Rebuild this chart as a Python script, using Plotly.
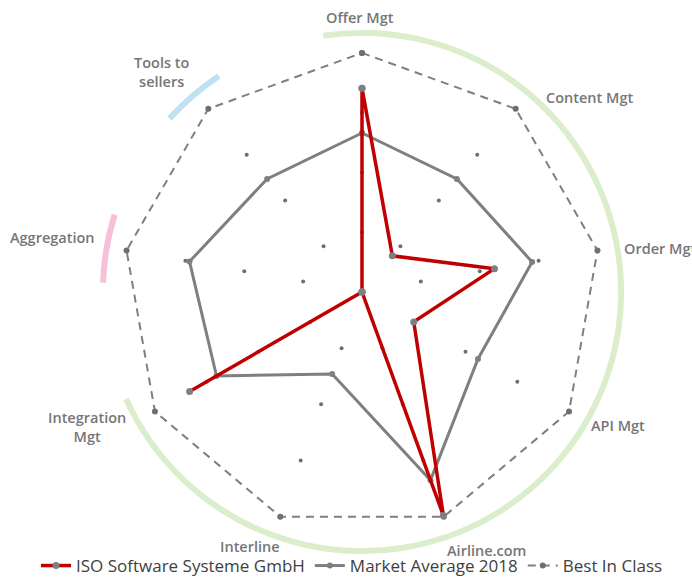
import plotly.graph_objects as go

# ---------------- data ----------------
categories = ["Offer Mgt", "Content Mgt", "Order Mgt", "API Mgt", "Airline.com",
              "Interline", "Integration<br>Mgt", "Aggregation", "Tools to<br>sellers"]
angles = [0, 40, 80, 120, 160, 200, 240, 280, 320]

iso_values = [3.41, 0.79, 2.25, 1.0, 3.98, 0.0, 3.33, 0.0, 0.0]
market_values = [2.66, 2.47, 2.89, 2.24, 3.35, 1.46, 2.81, 2.93, 2.47]
best_values = [4, 4, 4, 4, 4, 4, 4, 4, 4]
grid_levels = [1, 2, 3]

# decorative arcs: (centre angle, angular width, colour)
arc_centres = [118.5, 319.25, 279.7]
arc_widths = [254.2, 14.5, 15.3]
arc_colors = ["#dbeecb", "#c0e0f3", "#f5c0d8"]
arc_base = 4.285
arc_thick = 0.1

# ---------------- layout helpers ----------------
W, H = 692, 579
def px(X):
    return X / W
def py(Y):
    return 1 - Y / H

# category label centres (page pixels) and anchors
label_pos = [(359.5, 17.5, "center"), (589, 97.5, "center"), (622, 249, "left"),
             (617.5, 426, "center"), (486.5, 550, "center"), (249.5, 546.5, "center"),
             (87, 427, "center"), (52.5, 237.5, "center"), (161, 72, "center")]

GREY = "#7f7f7f"
RED = "#c00000"

fig = go.Figure()

# arcs
fig.add_trace(go.Barpolar(
    theta=arc_centres, width=arc_widths, r=[arc_thick] * 3, base=[arc_base] * 3,
    marker=dict(color=arc_colors, line=dict(width=0)),
    showlegend=False, hoverinfo="skip"))

# grid dots
gt, gr = [], []
for a in angles:
    for lv in grid_levels:
        gt.append(a)
        gr.append(lv)
fig.add_trace(go.Scatterpolar(
    r=gr, theta=gt, mode="markers",
    marker=dict(size=4, color="#6f6f6f"),
    showlegend=False, hoverinfo="skip"))

def closed(v):
    return list(v) + [v[0]]

fig.add_trace(go.Scatterpolar(
    r=closed(best_values), theta=closed(angles), mode="lines+markers",
    name="Best In Class", legendrank=3,
    line=dict(color=GREY, width=2, dash="8px,6px"),
    marker=dict(size=6, color="#6f6f6f")))

fig.add_trace(go.Scatterpolar(
    r=closed(market_values), theta=closed(angles), mode="lines+markers",
    name="Market Average 2018", legendrank=2,
    line=dict(color=GREY, width=3),
    marker=dict(size=6, color=GREY)))

fig.add_trace(go.Scatterpolar(
    r=closed(iso_values), theta=closed(angles), mode="lines+markers",
    name="ISO Software Systeme GmbH", legendrank=1,
    line=dict(color=RED, width=3.5),
    marker=dict(size=7, color=GREY)))

cx, cy, R = 362, 292, 263
annotations = []
for text, (X, Y, anc) in zip(categories, label_pos):
    annotations.append(dict(
        text=text, x=px(X), y=py(Y), xref="paper", yref="paper",
        xanchor=anc, yanchor="middle", align="center", showarrow=False,
        font=dict(family="Open Sans", size=14.5, color="#767676", weight=600)))

fig.update_layout(
    width=W, height=H,
    margin=dict(l=0, r=0, t=0, b=0, autoexpand=False),
    paper_bgcolor="white", plot_bgcolor="white",
    font=dict(family="Open Sans", color="#595959"),
    polar=dict(
        domain=dict(x=[px(cx - R), px(cx + R)], y=[py(cy + R), py(cy - R)]),
        bgcolor="rgba(0,0,0,0)",
        angularaxis=dict(
            direction="clockwise", rotation=90, thetaunit="degrees",
            tickmode="array", tickvals=angles, showticklabels=False,
            showgrid=False, showline=False, ticks=""),
        radialaxis=dict(range=[0, 4.4], visible=False, showgrid=False),
        barmode="overlay",
    ),
    annotations=annotations,
    legend=dict(orientation="h", x=px(352), xanchor="center", y=py(566), yanchor="middle",
                font=dict(family="Open Sans", size=17, color="#404040"),
                bgcolor="rgba(0,0,0,0)", itemwidth=30),
)

fig.write_html("out.html", config={"displayModeBar": False},
               post_script="document.body.style.margin='0';document.body.style.overflow='hidden';")
